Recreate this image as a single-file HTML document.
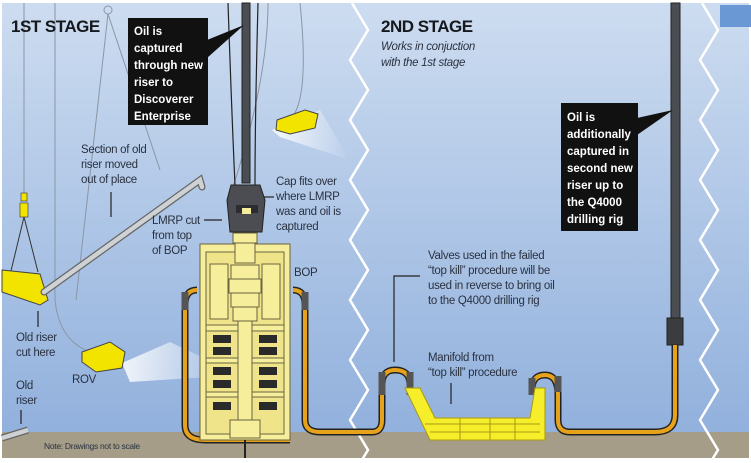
<!DOCTYPE html>
<html><head><meta charset="utf-8"><style>
html,body{margin:0;padding:0;width:751px;height:463px;overflow:hidden;background:#fff}
svg{display:block}
.t{font-family:"Liberation Sans",sans-serif;font-size:11.5px;fill:#2a3240;letter-spacing:-0.3px}
.b{font-family:"Liberation Sans",sans-serif;font-size:11.5px;font-weight:bold;fill:#fff}
.h{font-family:"Liberation Sans",sans-serif;font-size:17px;font-weight:bold;fill:#15181c;letter-spacing:-0.5px}
</style></head><body>
<svg width="751" height="463" viewBox="0 0 751 463">
<defs>
<linearGradient id="sea" x1="0" y1="0" x2="0" y2="1">
<stop offset="0" stop-color="#cddcf0"/><stop offset="0.5" stop-color="#adc5e6"/><stop offset="1" stop-color="#8eaedb"/>
</linearGradient>
<linearGradient id="light" x1="0" y1="0" x2="1" y2="0">
<stop offset="0" stop-color="#fff" stop-opacity="0.95"/><stop offset="1" stop-color="#fff" stop-opacity="0"/>
</linearGradient>
</defs>
<rect x="0" y="0" width="751" height="463" fill="#fff"/>
<rect x="2" y="3" width="747" height="455" fill="url(#sea)"/>
<rect x="720" y="5" width="31" height="22" fill="#6a98d4"/>
<rect x="2" y="432" width="747" height="26" fill="#a59d88"/>
<polyline fill="none" stroke="#fff" stroke-width="2.5" points="352,3 368,30 350,60 368,90 350,120 368,150 350,180 368,210 350,240 368,270 350,300 368,330 350,360 368,390 350,420 368,450 360,463"/>
<polyline fill="none" stroke="#fff" stroke-width="2.5" points="702,3 718,30 700,60 718,90 700,120 718,150 700,180 718,210 700,240 718,270 700,300 718,330 700,360 718,390 700,420 718,450 710,463"/>
<g fill="none" stroke="#8a96a6" stroke-width="1">
<line x1="24" y1="3" x2="24" y2="195"/>
<line x1="55" y1="3" x2="55" y2="300"/>
<path d="M55,300 Q60,350 105,355"/>
<circle cx="108" cy="10" r="4"/>
<line x1="108" y1="14" x2="76" y2="300"/>
<line x1="108" y1="14" x2="160" y2="170"/>
<path d="M268,3 Q268,80 232,190"/>
<path d="M300,3 Q310,100 290,120"/>
</g>
<path d="M228,3 Q232,120 235,185" stroke="#222" stroke-width="1.2" fill="none"/>
<path d="M258,3 Q255,120 255,185" stroke="#222" stroke-width="1.2" fill="none"/>
<rect x="21" y="193" width="6" height="8" fill="#f3e400" stroke="#333" stroke-width="0.6"/>
<rect x="20" y="203" width="8" height="14" fill="#f3e400" stroke="#333" stroke-width="0.6"/>
<path d="M24,217 L10,275 M24,217 L38,272" stroke="#333" stroke-width="1" fill="none"/>
<path d="M2,270 L40,274 L48,300 L40,305 L2,292 Z" fill="#f3e400" stroke="#444" stroke-width="1"/>
<path d="M44,292 L200,180 L202,187" stroke="#666" stroke-width="7" fill="none" stroke-linecap="round"/>
<path d="M44,292 L200,180 L202,187" stroke="#cfd2d5" stroke-width="4.5" fill="none" stroke-linecap="round"/>
<path d="M2,438 L28,430" stroke="#666" stroke-width="7"/>
<path d="M2,438 L28,430" stroke="#cfd2d5" stroke-width="4.5"/>
<path d="M122,363 L170,342 L240,375 L130,382 Z" fill="url(#light)" opacity="0.9"/>
<path d="M82,352 L110,342 L125,352 L122,368 L96,372 L82,362 Z" fill="#f3e400" stroke="#444" stroke-width="1"/>
<path d="M272,130 L320,110 L350,160 L280,137 Z" fill="url(#light)" opacity="0.9"/>
<path d="M277,120 L305,110 L318,114 L315,128 L290,134 L276,130 Z" fill="#f3e400" stroke="#444" stroke-width="1"/>
<rect x="242" y="3" width="8" height="180" fill="#4a4d52" stroke="#222" stroke-width="1"/>
<path d="M231,185 L260,185 L265,200 L262,232 L230,232 L227,200 Z" fill="#4b4d52" stroke="#222" stroke-width="1"/>
<rect x="236" y="205" width="22" height="8" fill="#2b2c30"/>
<rect x="242" y="208" width="9" height="6" fill="#f6ee9a"/>
<path d="M197,290 Q185,290 185,305 L185,425 Q185,440 205,440 L290,440" stroke="#222" stroke-width="7" fill="none"/>
<path d="M197,290 Q185,290 185,305 L185,425 Q185,440 205,440 L290,440" stroke="#e6a21a" stroke-width="4" fill="none"/>
<path d="M293,290 Q305,290 305,305 L305,420 Q305,432 320,432 L372,432 Q382,432 382,420 L382,385 Q382,370 395,370 Q410,370 410,385 L410,395" stroke="#222" stroke-width="7" fill="none"/>
<path d="M293,290 Q305,290 305,305 L305,420 Q305,432 320,432 L372,432 Q382,432 382,420 L382,385 Q382,370 395,370 Q410,370 410,385 L410,395" stroke="#e6a21a" stroke-width="4" fill="none"/>
<path d="M185,292 L185,310 M305,292 L305,310 M382,372 L382,395 M410,372 L410,395" stroke="#555" stroke-width="7"/>
<g stroke="#6b6440" stroke-width="1" fill="#f6ee9a">
<rect x="200" y="244" width="90" height="196"/>
<rect x="206" y="252" width="78" height="182" fill="#efe48a"/>
<rect x="210" y="264" width="18" height="55"/>
<rect x="262" y="264" width="18" height="55"/>
<rect x="233" y="233" width="24" height="10"/>
<rect x="235" y="243" width="20" height="20"/>
<rect x="231" y="265" width="28" height="14"/>
<rect x="229" y="279" width="32" height="14"/>
<rect x="231" y="293" width="28" height="14"/>
<rect x="233" y="307" width="24" height="14"/>
<rect x="206" y="325" width="78" height="6"/>
<rect x="206" y="358" width="78" height="5"/>
<rect x="206" y="392" width="78" height="5"/>
<rect x="238" y="321" width="14" height="100"/>
<rect x="230" y="420" width="30" height="18"/>
</g>
<g fill="#2a2a2a">
<rect x="213" y="335" width="18" height="8"/><rect x="259" y="335" width="18" height="8"/>
<rect x="213" y="347" width="18" height="8"/><rect x="259" y="347" width="18" height="8"/>
<rect x="213" y="367" width="18" height="8"/><rect x="259" y="367" width="18" height="8"/>
<rect x="213" y="380" width="18" height="8"/><rect x="259" y="380" width="18" height="8"/>
<rect x="213" y="402" width="18" height="8"/><rect x="259" y="402" width="18" height="8"/>
</g>
<line x1="245" y1="440" x2="245" y2="458" stroke="#222" stroke-width="2"/>
<rect x="671" y="3" width="9" height="318" fill="#4a4d52" stroke="#222" stroke-width="1"/>
<rect x="667" y="318" width="16" height="27" fill="#3a3c40" stroke="#222" stroke-width="1"/>
<path d="M675,345 L675,415 Q675,432 655,432 L570,432 Q558,432 558,420 L558,395 Q558,375 545,375 Q532,375 532,390" stroke="#222" stroke-width="7" fill="none"/>
<path d="M675,345 L675,415 Q675,432 655,432 L570,432 Q558,432 558,420 L558,395 Q558,375 545,375 Q532,375 532,390" stroke="#e6a21a" stroke-width="4" fill="none"/>
<path d="M558,376 L558,392 M532,378 L532,395" stroke="#555" stroke-width="7"/>
<g fill="#f6ee2a" stroke="#a89a10" stroke-width="1">
<path d="M405,388 L420,388 L435,418 L530,418 L535,388 L545,388 L545,440 L430,440 Z"/>
</g>
<g stroke="#a89a10" stroke-width="1" fill="none">
<line x1="425" y1="424" x2="540" y2="424"/><line x1="430" y1="432" x2="540" y2="432"/>
<line x1="460" y1="418" x2="460" y2="440"/><line x1="490" y1="418" x2="490" y2="440"/><line x1="515" y1="418" x2="515" y2="440"/>
</g>
<rect x="128" y="18" width="80" height="107" fill="#111"/>
<path d="M207,40 L244,25 L207,58 Z" fill="#111"/>
<text class="b" x="134" y="35">Oil is</text>
<text class="b" x="134" y="52">captured</text>
<text class="b" x="134" y="69">through new</text>
<text class="b" x="134" y="86">riser to</text>
<text class="b" x="134" y="103">Discoverer</text>
<text class="b" x="134" y="120">Enterprise</text>
<rect x="561" y="103" width="77" height="128" fill="#111"/>
<path d="M637,118 L673,110 L637,135 Z" fill="#111"/>
<text class="b" x="567" y="121">Oil is</text>
<text class="b" x="567" y="138">additionally</text>
<text class="b" x="567" y="155">captured in</text>
<text class="b" x="567" y="172">second new</text>
<text class="b" x="567" y="189">riser up to</text>
<text class="b" x="567" y="206">the Q4000</text>
<text class="b" x="567" y="223">drilling rig</text>
<text class="h" x="11" y="32">1ST STAGE</text>
<text class="h" x="381" y="32">2ND STAGE</text>
<text class="t" x="381" y="50" font-style="italic">Works in conjuction</text>
<text class="t" x="381" y="66" font-style="italic">with the 1st stage</text>
<text class="t" x="81" y="153">Section of old</text>
<text class="t" x="81" y="168">riser moved</text>
<text class="t" x="81" y="183">out of place</text>
<line x1="111" y1="192" x2="111" y2="217" stroke="#222" stroke-width="1.2"/>
<text class="t" x="276" y="185">Cap fits over</text>
<text class="t" x="276" y="200">where LMRP</text>
<text class="t" x="276" y="215">was and oil is</text>
<text class="t" x="276" y="230">captured</text>
<line x1="264" y1="197" x2="274" y2="197" stroke="#222" stroke-width="1.2"/>
<text class="t" x="152" y="224">LMRP cut</text>
<text class="t" x="152" y="239">from top</text>
<text class="t" x="152" y="254">of BOP</text>
<line x1="204" y1="220" x2="222" y2="220" stroke="#222" stroke-width="1.2"/>
<text class="t" x="294" y="276">BOP</text>
<text class="t" x="16" y="341">Old riser</text>
<text class="t" x="16" y="356">cut here</text>
<line x1="38" y1="311" x2="38" y2="327" stroke="#222" stroke-width="1.2"/>
<text class="t" x="72" y="383">ROV</text>
<text class="t" x="16" y="389">Old</text>
<text class="t" x="16" y="404">riser</text>
<line x1="21" y1="410" x2="21" y2="424" stroke="#222" stroke-width="1.2"/>
<text class="t" x="44" y="449" style="font-size:8.5px">Note: Drawings not to scale</text>
<text class="t" x="428" y="259">Valves used in the failed</text>
<text class="t" x="428" y="274">“top kill” procedure will be</text>
<text class="t" x="428" y="289">used in reverse to bring oil</text>
<text class="t" x="428" y="304">to the Q4000 drilling rig</text>
<path d="M420,276 L394,276 L394,362" stroke="#222" stroke-width="1.2" fill="none"/>
<text class="t" x="428" y="361">Manifold from</text>
<text class="t" x="428" y="376">“top kill” procedure</text>
<line x1="451" y1="383" x2="451" y2="404" stroke="#222" stroke-width="1.2"/>
</svg>
</body></html>
